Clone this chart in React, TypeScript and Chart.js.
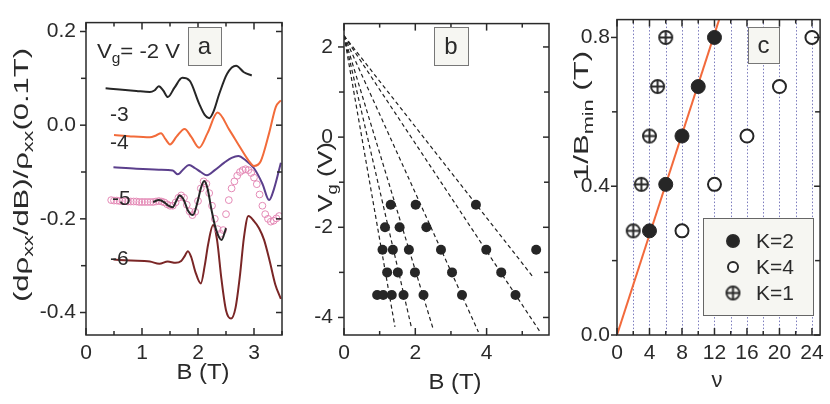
import React, { useEffect, useRef } from "react";
import { Chart, registerables } from "chart.js";

Chart.register(...registerables);

const FONT = '"Liberation Sans", Arial, sans-serif';
const INK = "#2a2a2a";

// ---------- panel a: (dρxx/dB)/ρxx against B, one trace per gate voltage ----------
const bA2 = [0.35, 0.6, 0.9, 1.14, 1.22, 1.3, 1.38, 1.46, 1.58, 1.72, 1.85, 2.02, 2.12, 2.2, 2.28, 2.38, 2.52, 2.68, 2.82, 2.96];
const dA2 = [0.079, 0.076, 0.073, 0.071, 0.074, 0.083, 0.074, 0.06, 0.08, 0.101, 0.095, 0.046, 0.022, 0.015, 0.03, 0.067, 0.11, 0.127, 0.113, 0.106];

const bA3 = [0.5, 0.8, 1.14, 1.25, 1.34, 1.42, 1.5, 1.62, 1.76, 1.88, 2.02, 2.17, 2.35, 2.56, 2.74, 2.9, 3.0, 3.12, 3.27, 3.39, 3.48];
const dA3 = [-0.021, -0.024, -0.026, -0.022, -0.017, -0.03, -0.041, -0.024, -0.008, -0.025, -0.048, -0.017, 0.027, -0.01, -0.045, -0.075, -0.087, -0.077, -0.017, 0.039, 0.053];

const bA4 = [0.49, 0.9, 1.3, 1.55, 1.64, 1.74, 1.84, 1.95, 2.05, 2.16, 2.3, 2.47, 2.6, 2.72, 2.85, 3.0, 3.15, 3.27, 3.36, 3.48];
const dA4 = [-0.09, -0.093, -0.095, -0.097, -0.105, -0.094, -0.085, -0.092, -0.1, -0.107, -0.096, -0.08, -0.07, -0.066, -0.075, -0.092, -0.125, -0.16, -0.135, -0.08];

// -5 V measured twice: open circles and a short solid trace
const bA5o = [
  0.45, 0.5, 0.55, 0.6, 0.65, 0.7, 0.75, 0.8, 0.85, 0.9, 0.95, 1.0, 1.05, 1.1, 1.15, 1.2, 1.25, 1.3, 1.35, 1.4,
  1.45, 1.5, 1.55, 1.6, 1.65, 1.7, 1.75, 1.8, 1.85, 1.9, 1.95, 2.0, 2.05, 2.1, 2.15, 2.2, 2.25, 2.3, 2.35, 2.4,
  2.45, 2.5, 2.55, 2.6, 2.65, 2.7, 2.75, 2.8, 2.85, 2.9, 2.95, 3.0, 3.05, 3.1, 3.15, 3.2, 3.25, 3.3, 3.35, 3.4, 3.45,
];
const dA5o = [
  -0.16, -0.161, -0.161, -0.162, -0.162, -0.162, -0.163, -0.163, -0.163, -0.163, -0.164, -0.164, -0.164, -0.164, -0.164, -0.164, -0.163, -0.162, -0.163, -0.165,
  -0.169, -0.172, -0.172, -0.165, -0.155, -0.15, -0.155, -0.17, -0.184, -0.192, -0.185, -0.162, -0.135, -0.12, -0.125, -0.145, -0.172, -0.2, -0.222, -0.232,
  -0.224, -0.19, -0.16, -0.135, -0.12, -0.108, -0.1, -0.096, -0.094, -0.096, -0.102, -0.112, -0.126, -0.148, -0.172, -0.19, -0.2, -0.206, -0.204, -0.199, -0.194,
];
const bA5 = [1.2, 1.3, 1.4, 1.47, 1.55, 1.61, 1.67, 1.74, 1.82, 1.91, 2.0, 2.05, 2.11, 2.17, 2.24, 2.32, 2.42, 2.5];
const dA5 = [-0.164, -0.16, -0.165, -0.172, -0.175, -0.162, -0.15, -0.158, -0.182, -0.192, -0.16, -0.135, -0.119, -0.135, -0.18, -0.222, -0.245, -0.22];

const bA6 = [0.49, 0.8, 1.14, 1.31, 1.46, 1.6, 1.7, 1.76, 1.82, 1.88, 1.95, 2.05, 2.12, 2.18, 2.27, 2.34, 2.42, 2.5, 2.59, 2.67, 2.75, 2.82, 2.9, 3.0, 3.09, 3.18, 3.28, 3.38, 3.48];
const dA6 = [-0.287, -0.289, -0.291, -0.296, -0.291, -0.294, -0.29, -0.28, -0.269, -0.282, -0.312, -0.338, -0.3, -0.255, -0.213, -0.245, -0.33, -0.395, -0.413, -0.39, -0.32, -0.24, -0.194, -0.205, -0.22, -0.245, -0.29, -0.34, -0.371];

const aTickB = [0, 1, 2, 3];
const aMinorB = [0.5, 1.5, 2.5, 3.5];
const aTickD = [0.2, 0, -0.2, -0.4];
const aMinorD = [0.1, -0.1, -0.3];

// ---------- panel b: gate voltage against B of the minima ----------
const bRowV = [-1.5, -2, -2.5, -3, -3.5];
const bRowB = [
  [1.31, 2.01, 3.7],
  [1.15, 1.56, 2.31],
  [1.08, 1.37, 1.82, 2.72, 3.99, 5.39],
  [1.21, 1.51, 1.99, 3.03, 4.41],
  [0.93, 1.1, 1.34, 1.67, 2.23, 3.31, 4.81],
];
const fanStartB = 0;
const fanStartV = 2.25;
const fanEndB = [1.43, 1.9, 2.51, 3.77, 5.5, 5.33];
const fanEndV = [-4.21, -4.25, -4.28, -4.32, -4.32, -3.13];

const bTickB = [0, 2, 4];
const bMinorB = [1, 3, 5];
const bTickV = [2, 0, -2, -4];
const bMinorV = [1, -1, -3];

// ---------- panel c: 1/Bmin against filling factor ----------
const cInvB = [0.28, 0.405, 0.535, 0.668, 0.8];
const cNuK2 = [4, 6, 8, 10, 12];
const cNuK4 = [8, 12, 16, 20, 24];
const cNuK1 = [2, 3, 4, 5, 6];
const fitNu = [0, 12.6];
const fitInv = [0, 0.85];

const cTickNu = [0, 4, 8, 12, 16, 20, 24];
const cMinorNu = [2, 6, 10, 14, 18, 22];
const cGridNu = [2, 4, 6, 8, 10, 12, 14, 16, 18, 20, 22, 24];
const cTickInv = [0, 0.4, 0.8];
const cMinorInv = [0.2, 0.6];

// ---------- drawing helpers ----------
type Part = { t: string; sub?: boolean };
type Rich = { parts: Part[]; x: number; y: number; size: number; rot?: boolean; center?: boolean; fit?: number };
type Box = { x1: number; y1: number; x2: number; y2: number; text: string };

const pts = (xs: number[], ys: number[]) => xs.map((x, i) => ({ x, y: ys[i] }));

function drawRich(ctx: CanvasRenderingContext2D, r: Rich, ox: number) {
  ctx.save();
  ctx.translate(r.x - ox, r.y);
  if (r.rot) ctx.rotate(-Math.PI / 2);
  const sizeOf = (p: Part) => (p.sub ? r.size * 0.7 : r.size);
  const widths = r.parts.map((p) => {
    ctx.font = `${sizeOf(p)}px ${FONT}`;
    return ctx.measureText(p.t).width;
  });
  const total = widths.reduce((a, b) => a + b, 0);
  const k = r.fit ? r.fit / total : 1;
  ctx.scale(k, 1);
  let cx = r.center ? -total / 2 : 0;
  ctx.fillStyle = INK;
  ctx.textAlign = "left";
  ctx.textBaseline = "alphabetic";
  r.parts.forEach((p, i) => {
    ctx.font = `${sizeOf(p)}px ${FONT}`;
    ctx.fillText(p.t, cx, p.sub ? r.size * 0.25 : 0);
    cx += widths[i];
  });
  ctx.restore();
}

function drawBox(ctx: CanvasRenderingContext2D, b: Box, ox: number, size = 24) {
  ctx.save();
  ctx.fillStyle = "#f6f6f2";
  ctx.strokeStyle = "#777";
  ctx.lineWidth = 1;
  ctx.fillRect(b.x1 - ox, b.y1, b.x2 - b.x1, b.y2 - b.y1);
  ctx.strokeRect(b.x1 - ox + 0.5, b.y1 + 0.5, b.x2 - b.x1, b.y2 - b.y1);
  ctx.fillStyle = INK;
  ctx.font = `${size}px ${FONT}`;
  ctx.textAlign = "center";
  ctx.textBaseline = "middle";
  ctx.fillText(b.text, (b.x1 + b.x2) / 2 - ox, (b.y1 + b.y2) / 2 + 1);
  ctx.restore();
}

function crossedCircle(r: number) {
  const c = document.createElement("canvas");
  const s = Math.ceil(2 * r + 4);
  c.width = s;
  c.height = s;
  const g = c.getContext("2d")!;
  g.strokeStyle = INK;
  g.lineWidth = 2;
  g.beginPath();
  g.arc(s / 2, s / 2, r, 0, Math.PI * 2);
  g.moveTo(s / 2 - r, s / 2);
  g.lineTo(s / 2 + r, s / 2);
  g.moveTo(s / 2, s / 2 - r);
  g.lineTo(s / 2, s / 2 + r);
  g.stroke();
  return c;
}

interface Decor {
  ox: number;
  xMajor: number[];
  xMinor: number[];
  yMajor: number[];
  yMinor: number[];
  texts: Rich[];
  boxes: Box[];
  vGrid?: number[];
  legend?: { x1: number; y1: number; x2: number; y2: number; symX: number; textX: number; rows: number[] };
}

// frame, Igor-style ticks, labels and boxes drawn over the chart
function decorPlugin(d: Decor) {
  return {
    id: "decor",
    beforeDatasetsDraw(chart: any) {
      if (!d.vGrid) return;
      const { ctx, chartArea: a } = chart;
      const sx = chart.scales.x;
      ctx.save();
      ctx.strokeStyle = "#7b7bbd";
      ctx.lineWidth = 1;
      ctx.setLineDash([1.5, 2]);
      d.vGrid.forEach((v) => {
        const px = Math.round(sx.getPixelForValue(v)) + 0.5;
        ctx.beginPath();
        ctx.moveTo(px, a.top);
        ctx.lineTo(px, a.bottom);
        ctx.stroke();
      });
      ctx.restore();
    },
    afterDraw(chart: any) {
      const { ctx, chartArea: a } = chart;
      const sx = chart.scales.x;
      const sy = chart.scales.y;
      ctx.save();
      ctx.strokeStyle = INK;
      ctx.lineWidth = 1.5;
      const mark = (x1: number, y1: number, x2: number, y2: number) => {
        ctx.beginPath();
        ctx.moveTo(x1, y1);
        ctx.lineTo(x2, y2);
        ctx.stroke();
      };
      const xt = (vals: number[], len: number) =>
        vals.forEach((v) => {
          const px = sx.getPixelForValue(v);
          mark(px, a.bottom, px, a.bottom - len);
          mark(px, a.top, px, a.top + len);
        });
      const yt = (vals: number[], len: number) =>
        vals.forEach((v) => {
          const py = sy.getPixelForValue(v);
          mark(a.left, py, a.left - len, py);
          mark(a.right, py, a.right - len, py);
        });
      xt(d.xMajor, 7);
      xt(d.xMinor, 4);
      yt(d.yMajor, 6);
      yt(d.yMinor, 5);
      ctx.strokeRect(a.left, a.top, a.right - a.left, a.bottom - a.top);
      ctx.restore();

      d.boxes.forEach((b) => drawBox(ctx, b, d.ox));
      d.texts.forEach((t) => drawRich(ctx, t, d.ox));

      if (d.legend) {
        const L = d.legend;
        ctx.save();
        ctx.fillStyle = "#f6f6f2";
        ctx.strokeStyle = "#666";
        ctx.lineWidth = 1;
        ctx.fillRect(L.x1 - d.ox, L.y1, L.x2 - L.x1, L.y2 - L.y1);
        ctx.strokeRect(L.x1 - d.ox + 0.5, L.y1 + 0.5, L.x2 - L.x1, L.y2 - L.y1);
        chart.data.datasets
          .filter((ds: any) => !ds.showLine)
          .forEach((ds: any, i: number) => {
            const cy = L.rows[i];
            const cx = L.symX - d.ox;
            ctx.lineWidth = 2;
            ctx.strokeStyle = INK;
            if (ds.pointStyle instanceof HTMLCanvasElement) {
              const s = ds.pointStyle;
              ctx.drawImage(s, cx - s.width / 2, cy - s.height / 2);
            } else {
              ctx.beginPath();
              ctx.arc(cx, cy, ds.legendR, 0, Math.PI * 2);
              ctx.fillStyle = ds.backgroundColor;
              ctx.fill();
              ctx.stroke();
            }
            ctx.fillStyle = INK;
            ctx.font = `21px ${FONT}`;
            ctx.textBaseline = "middle";
            ctx.fillText(ds.label, L.textX - d.ox, cy + 1);
          });
        ctx.restore();
      }
    },
  };
}

interface AxisSpec {
  min: number;
  max: number;
  ticks: number[];
  fmt: (v: number) => string;
  size: number;
  pad: number;
}

function baseOptions(x: AxisSpec, y: AxisSpec, padTop: number, padRight: number) {
  const tickFont = { family: FONT, size: 21 };
  return {
    animation: false as const,
    responsive: false,
    maintainAspectRatio: false,
    layout: { padding: { top: padTop, right: padRight, left: 0, bottom: 0 } },
    plugins: { legend: { display: false }, tooltip: { enabled: false } },
    scales: {
      x: {
        type: "linear" as const,
        min: x.min,
        max: x.max,
        grid: { display: false, drawTicks: false },
        border: { display: false },
        afterBuildTicks: (s: any) => {
          s.ticks = x.ticks.map((value) => ({ value }));
        },
        afterFit: (s: any) => {
          s.height = x.size;
        },
        ticks: {
          font: tickFont,
          color: INK,
          padding: x.pad,
          maxRotation: 0,
          autoSkip: false,
          callback: (v: any) => x.fmt(Number(v)),
        },
      },
      y: {
        type: "linear" as const,
        min: y.min,
        max: y.max,
        grid: { display: false, drawTicks: false },
        border: { display: false },
        afterBuildTicks: (s: any) => {
          s.ticks = y.ticks.map((value) => ({ value }));
        },
        afterFit: (s: any) => {
          s.width = y.size;
        },
        ticks: {
          font: tickFont,
          color: INK,
          padding: y.pad,
          autoSkip: false,
          callback: (v: any) => y.fmt(Number(v)),
        },
      },
    },
  };
}

const line = (label: string, xs: number[], ys: number[], color: string) => ({
  label,
  data: pts(xs, ys),
  showLine: true,
  borderColor: color,
  borderWidth: 2,
  pointRadius: 0,
  cubicInterpolationMode: "monotone" as const,
});

function configA(ox: number): any {
  return {
    type: "scatter",
    data: {
      datasets: [
        line("-2 V", bA2, dA2, "#262626"),
        line("-3 V", bA3, dA3, "#f26b3a"),
        line("-4 V", bA4, dA4, "#5b3f8c"),
        line("-5 V", bA5, dA5, "#262626"),
        {
          label: "-5 V (circles)",
          data: pts(bA5o, dA5o),
          showLine: false,
          pointStyle: "circle",
          pointRadius: 3.4,
          borderWidth: 1,
          borderColor: "#e48ab6",
          backgroundColor: "rgba(255,255,255,0)",
        },
        line("-6 V", bA6, dA6, "#7a2626"),
      ],
    },
    options: baseOptions(
      { min: 0, max: 3.5, ticks: aTickB, fmt: (v) => String(v), size: 69, pad: 6 },
      { min: -0.448, max: 0.219, ticks: aTickD, fmt: (v) => v.toFixed(1), size: 86, pad: 10 },
      18,
      18
    ),
    plugins: [
      decorPlugin({
        ox,
        xMajor: aTickB,
        xMinor: aMinorB,
        yMajor: aTickD,
        yMinor: aMinorD,
        boxes: [{ x1: 188, y1: 27, x2: 221, y2: 65, text: "a" }],
        texts: [
          {
            parts: [{ t: "(dρ" }, { t: "xx", sub: true }, { t: "/dB)/ρ" }, { t: "xx", sub: true }, { t: "(0.1T)" }],
            x: 28,
            y: 175,
            size: 21,
            rot: true,
            center: true,
            fit: 254,
          },
          { parts: [{ t: "B (T)" }], x: 203, y: 379, size: 22, center: true, fit: 53 },
          { parts: [{ t: "V" }, { t: "g", sub: true }, { t: "= -2 V" }], x: 97, y: 58, size: 21, fit: 83 },
          { parts: [{ t: "-3" }], x: 110, y: 121, size: 21 },
          { parts: [{ t: "-4" }], x: 110, y: 149, size: 21 },
          { parts: [{ t: "-5" }], x: 112, y: 205, size: 21 },
          { parts: [{ t: "-6" }], x: 110, y: 265, size: 21 },
        ],
      }),
    ],
  };
}

function configB(ox: number): any {
  const fans = fanEndB.map((b, i) => ({
    label: `fit ${i + 1}`,
    data: [
      { x: fanStartB, y: fanStartV },
      { x: b, y: fanEndV[i] },
    ],
    showLine: true,
    borderColor: "#222",
    borderWidth: 1.2,
    borderDash: [4, 3],
    pointRadius: 0,
  }));
  const minima = {
    label: "minima",
    data: bRowB.flatMap((row, i) => row.map((x) => ({ x, y: bRowV[i] }))),
    showLine: false,
    pointRadius: 5,
    backgroundColor: "#262626",
    borderColor: "#262626",
    borderWidth: 0,
  };
  return {
    type: "scatter",
    data: { datasets: [minima, ...fans] },
    options: baseOptions(
      { min: 0, max: 5.75, ticks: bTickB, fmt: (v) => String(v), size: 69, pad: 6 },
      { min: -4.389, max: 2.518, ticks: bTickV, fmt: (v) => String(v), size: 44, pad: 11 },
      15,
      21
    ),
    plugins: [
      decorPlugin({
        ox,
        xMajor: bTickB,
        xMinor: bMinorB,
        yMajor: bTickV,
        yMinor: bMinorV,
        boxes: [{ x1: 434, y1: 27, x2: 468, y2: 65, text: "b" }],
        texts: [
          {
            parts: [{ t: "V" }, { t: "g", sub: true }, { t: " (V)" }],
            x: 332,
            y: 177,
            size: 21,
            rot: true,
            center: true,
            fit: 70,
          },
          { parts: [{ t: "B (T)" }], x: 455, y: 389, size: 22, center: true, fit: 53 },
        ],
      }),
    ],
  };
}

function configC(ox: number): any {
  const cross = crossedCircle(6.5);
  return {
    type: "scatter",
    data: {
      datasets: [
        {
          label: "K=2",
          data: pts(cNuK2, cInvB),
          showLine: false,
          pointRadius: 7,
          backgroundColor: "#262626",
          borderColor: "#262626",
          borderWidth: 1,
          legendR: 6,
        },
        {
          label: "K=4",
          data: pts(cNuK4, cInvB),
          showLine: false,
          pointRadius: 6.5,
          backgroundColor: "#ffffff",
          borderColor: "#262626",
          borderWidth: 2,
          clip: 0,
          legendR: 5,
        },
        {
          label: "K=1",
          data: pts(cNuK1, cInvB),
          showLine: false,
          pointStyle: cross,
          pointRadius: 7,
        },
        {
          label: "fit",
          data: pts(fitNu, fitInv),
          showLine: true,
          borderColor: "#f26a3c",
          borderWidth: 2,
          pointRadius: 0,
        },
      ],
    },
    options: baseOptions(
      { min: 0, max: 25, ticks: cTickNu, fmt: (v) => String(v), size: 69, pad: 6 },
      { min: 0, max: 0.848, ticks: cTickInv, fmt: (v) => v.toFixed(1), size: 47, pad: 7 },
      16,
      9
    ),
    plugins: [
      decorPlugin({
        ox,
        xMajor: cTickNu,
        xMinor: cMinorNu,
        yMajor: cTickInv,
        yMinor: cMinorInv,
        vGrid: cGridNu,
        boxes: [{ x1: 748, y1: 27, x2: 779, y2: 63, text: "c" }],
        legend: { x1: 703, y1: 218, x2: 813, y2: 315, symX: 733, textX: 756, rows: [241, 267, 293] },
        texts: [
          {
            parts: [{ t: "1/B" }, { t: "min", sub: true }, { t: " (T)" }],
            x: 588,
            y: 116,
            size: 21,
            rot: true,
            center: true,
            fit: 130,
          },
          { parts: [{ t: "ν" }], x: 717, y: 387, size: 22, center: true },
        ],
      }),
    ],
  };
}

function Panel({ left, width, make }: { left: number; width: number; make: (ox: number) => any }) {
  const ref = useRef<HTMLCanvasElement | null>(null);

  useEffect(() => {
    if (!ref.current) return;
    const chart = new Chart(ref.current, make(left));
    return () => chart.destroy();
  }, [left, width, make]);

  return (
    <canvas
      ref={ref}
      width={width}
      height={404}
      style={{ position: "absolute", left, top: 0, width, height: 404 }}
    />
  );
}

export default function App() {
  return (
    <div style={{ position: "absolute", left: 0, top: 0, width: 830, height: 404, background: "#fff" }}>
      <Panel left={0} width={300} make={configA} />
      <Panel left={300} width={270} make={configB} />
      <Panel left={570} width={260} make={configC} />
    </div>
  );
}
